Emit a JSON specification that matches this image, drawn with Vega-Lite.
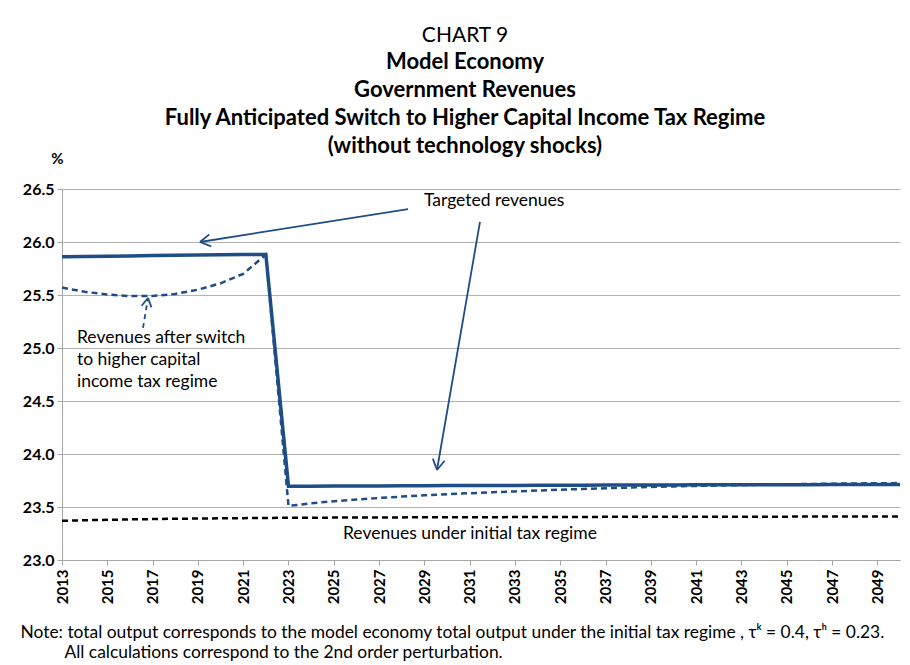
{
  "$schema": "https://vega.github.io/schema/vega-lite/v6.json",
  "width": 838,
  "height": 371,
  "autosize": {"type": "none"},
  "padding": {"left": 62, "top": 189, "right": 10, "bottom": 105},
  "background": "white",
  "config": {
    "font": "Lato",
    "view": {"stroke": null}
  },
  "title": {
    "text": "CHART 9",
    "subtitle": ["Model Economy", "Government Revenues", "Fully Anticipated Switch to Higher Capital Income Tax Regime", "(without technology shocks)"],
    "anchor": "middle",
    "frame": "group",
    "dx": -16,
    "dy": 42,
    "offset": 36,
    "font": "Lato",
    "fontSize": 21,
    "fontWeight": "normal",
    "color": "black",
    "subtitleFont": "Lato",
    "subtitleFontSize": 22,
    "subtitleFontWeight": "bold",
    "subtitleColor": "black",
    "subtitleLineHeight": 28,
    "subtitlePadding": 6
  },
  "datasets": {
    "lines": [
      {"series": "Targeted", "year": 2013, "value": 25.86},
      {"series": "Targeted", "year": 2014, "value": 25.863},
      {"series": "Targeted", "year": 2015, "value": 25.866},
      {"series": "Targeted", "year": 2016, "value": 25.869},
      {"series": "Targeted", "year": 2017, "value": 25.872},
      {"series": "Targeted", "year": 2018, "value": 25.875},
      {"series": "Targeted", "year": 2019, "value": 25.877},
      {"series": "Targeted", "year": 2020, "value": 25.879},
      {"series": "Targeted", "year": 2021, "value": 25.881},
      {"series": "Targeted", "year": 2022, "value": 25.883},
      {"series": "Targeted", "year": 2023, "value": 23.695},
      {"series": "Targeted", "year": 2024, "value": 23.696},
      {"series": "Targeted", "year": 2025, "value": 23.697},
      {"series": "Targeted", "year": 2026, "value": 23.698},
      {"series": "Targeted", "year": 2027, "value": 23.699},
      {"series": "Targeted", "year": 2028, "value": 23.7},
      {"series": "Targeted", "year": 2029, "value": 23.701},
      {"series": "Targeted", "year": 2030, "value": 23.702},
      {"series": "Targeted", "year": 2031, "value": 23.703},
      {"series": "Targeted", "year": 2032, "value": 23.703},
      {"series": "Targeted", "year": 2033, "value": 23.704},
      {"series": "Targeted", "year": 2034, "value": 23.705},
      {"series": "Targeted", "year": 2035, "value": 23.705},
      {"series": "Targeted", "year": 2036, "value": 23.706},
      {"series": "Targeted", "year": 2037, "value": 23.707},
      {"series": "Targeted", "year": 2038, "value": 23.707},
      {"series": "Targeted", "year": 2039, "value": 23.708},
      {"series": "Targeted", "year": 2040, "value": 23.708},
      {"series": "Targeted", "year": 2041, "value": 23.709},
      {"series": "Targeted", "year": 2042, "value": 23.709},
      {"series": "Targeted", "year": 2043, "value": 23.71},
      {"series": "Targeted", "year": 2044, "value": 23.71},
      {"series": "Targeted", "year": 2045, "value": 23.711},
      {"series": "Targeted", "year": 2046, "value": 23.711},
      {"series": "Targeted", "year": 2047, "value": 23.712},
      {"series": "Targeted", "year": 2048, "value": 23.712},
      {"series": "Targeted", "year": 2049, "value": 23.713},
      {"series": "Targeted", "year": 2050, "value": 23.713},
      {"series": "Switch", "year": 2013, "value": 25.57},
      {"series": "Switch", "year": 2014, "value": 25.53},
      {"series": "Switch", "year": 2015, "value": 25.505},
      {"series": "Switch", "year": 2016, "value": 25.49},
      {"series": "Switch", "year": 2017, "value": 25.49},
      {"series": "Switch", "year": 2018, "value": 25.51},
      {"series": "Switch", "year": 2019, "value": 25.55},
      {"series": "Switch", "year": 2020, "value": 25.61},
      {"series": "Switch", "year": 2021, "value": 25.7},
      {"series": "Switch", "year": 2022, "value": 25.88},
      {"series": "Switch", "year": 2023, "value": 23.51},
      {"series": "Switch", "year": 2024, "value": 23.535},
      {"series": "Switch", "year": 2025, "value": 23.555},
      {"series": "Switch", "year": 2026, "value": 23.57},
      {"series": "Switch", "year": 2027, "value": 23.585},
      {"series": "Switch", "year": 2028, "value": 23.598},
      {"series": "Switch", "year": 2029, "value": 23.61},
      {"series": "Switch", "year": 2030, "value": 23.62},
      {"series": "Switch", "year": 2031, "value": 23.63},
      {"series": "Switch", "year": 2032, "value": 23.639},
      {"series": "Switch", "year": 2033, "value": 23.647},
      {"series": "Switch", "year": 2034, "value": 23.655},
      {"series": "Switch", "year": 2035, "value": 23.663},
      {"series": "Switch", "year": 2036, "value": 23.67},
      {"series": "Switch", "year": 2037, "value": 23.677},
      {"series": "Switch", "year": 2038, "value": 23.683},
      {"series": "Switch", "year": 2039, "value": 23.689},
      {"series": "Switch", "year": 2040, "value": 23.694},
      {"series": "Switch", "year": 2041, "value": 23.699},
      {"series": "Switch", "year": 2042, "value": 23.703},
      {"series": "Switch", "year": 2043, "value": 23.707},
      {"series": "Switch", "year": 2044, "value": 23.711},
      {"series": "Switch", "year": 2045, "value": 23.714},
      {"series": "Switch", "year": 2046, "value": 23.717},
      {"series": "Switch", "year": 2047, "value": 23.72},
      {"series": "Switch", "year": 2048, "value": 23.722},
      {"series": "Switch", "year": 2049, "value": 23.724},
      {"series": "Switch", "year": 2050, "value": 23.726},
      {"series": "Initial", "year": 2013, "value": 23.37},
      {"series": "Initial", "year": 2014, "value": 23.375},
      {"series": "Initial", "year": 2015, "value": 23.379},
      {"series": "Initial", "year": 2016, "value": 23.383},
      {"series": "Initial", "year": 2017, "value": 23.386},
      {"series": "Initial", "year": 2018, "value": 23.389},
      {"series": "Initial", "year": 2019, "value": 23.391},
      {"series": "Initial", "year": 2020, "value": 23.393},
      {"series": "Initial", "year": 2021, "value": 23.395},
      {"series": "Initial", "year": 2022, "value": 23.397},
      {"series": "Initial", "year": 2023, "value": 23.398},
      {"series": "Initial", "year": 2024, "value": 23.399},
      {"series": "Initial", "year": 2025, "value": 23.4},
      {"series": "Initial", "year": 2026, "value": 23.401},
      {"series": "Initial", "year": 2027, "value": 23.402},
      {"series": "Initial", "year": 2028, "value": 23.402},
      {"series": "Initial", "year": 2029, "value": 23.403},
      {"series": "Initial", "year": 2030, "value": 23.403},
      {"series": "Initial", "year": 2031, "value": 23.404},
      {"series": "Initial", "year": 2032, "value": 23.404},
      {"series": "Initial", "year": 2033, "value": 23.405},
      {"series": "Initial", "year": 2034, "value": 23.405},
      {"series": "Initial", "year": 2035, "value": 23.406},
      {"series": "Initial", "year": 2036, "value": 23.406},
      {"series": "Initial", "year": 2037, "value": 23.407},
      {"series": "Initial", "year": 2038, "value": 23.407},
      {"series": "Initial", "year": 2039, "value": 23.407},
      {"series": "Initial", "year": 2040, "value": 23.408},
      {"series": "Initial", "year": 2041, "value": 23.408},
      {"series": "Initial", "year": 2042, "value": 23.408},
      {"series": "Initial", "year": 2043, "value": 23.409},
      {"series": "Initial", "year": 2044, "value": 23.409},
      {"series": "Initial", "year": 2045, "value": 23.409},
      {"series": "Initial", "year": 2046, "value": 23.41},
      {"series": "Initial", "year": 2047, "value": 23.41},
      {"series": "Initial", "year": 2048, "value": 23.41},
      {"series": "Initial", "year": 2049, "value": 23.41},
      {"series": "Initial", "year": 2050, "value": 23.41}
    ],
    "arrows": [
      {"kind": "solid", "x": 2028.28, "y": 26.311, "x2": 2019.093, "y2": 26.0},
      {"kind": "solid", "x": 2019.093, "y": 26.0, "x2": 2019.587, "y2": 25.959},
      {"kind": "solid", "x": 2019.093, "y": 26.0, "x2": 2019.503, "y2": 26.072},
      {"kind": "solid", "x": 2031.455, "y": 26.189, "x2": 2029.556, "y2": 23.849},
      {"kind": "solid", "x": 2029.556, "y": 23.849, "x2": 2029.896, "y2": 23.936},
      {"kind": "solid", "x": 2029.556, "y": 23.849, "x2": 2029.375, "y2": 23.956},
      {"kind": "dashed", "x": 2016.576, "y": 25.189, "x2": 2016.797, "y2": 25.472},
      {"kind": "solid", "x": 2016.797, "y": 25.472, "x2": 2016.514, "y2": 25.399},
      {"kind": "solid", "x": 2016.797, "y": 25.472, "x2": 2016.951, "y2": 25.383}
    ],
    "labels": [
      {"x": 2028.98, "y": 26.34, "align": "left", "text": ["Targeted revenues"]},
      {"x": 2013.66, "y": 25.047, "align": "left", "text": ["Revenues after switch", "to higher capital", "income tax regime"]},
      {"x": 2031.01, "y": 23.2, "align": "center", "text": ["Revenues under initial tax regime"]}
    ]
  },
  "encoding": {
    "x": {
      "field": "year",
      "type": "quantitative",
      "scale": {"domain": [2013, 2050], "nice": false, "zero": false},
      "axis": {
        "values": [2013, 2015, 2017, 2019, 2021, 2023, 2025, 2027, 2029, 2031, 2033, 2035, 2037, 2039, 2041, 2043, 2045, 2047, 2049],
        "format": "d",
        "grid": false,
        "labelAngle": -90,
        "labelAlign": "right",
        "labelBaseline": "middle",
        "labelFontSize": 15,
        "labelFontWeight": "bold",
        "labelColor": "black",
        "labelPadding": 4,
        "domainColor": "#a6a6a6",
        "tickColor": "#a6a6a6",
        "tickSize": 5,
        "title": ["Note: total output corresponds to the model economy total output under the initial tax regime , τᵏ = 0.4, τʰ = 0.23.", "\u200b\u00a0\u00a0\u00a0\u00a0\u00a0\u00a0\u00a0\u00a0\u00a0\u00a0All calculations correspond to the 2nd order perturbation."],
        "titleAnchor": "start",
        "titleAlign": "left",
        "titleBaseline": "alphabetic",
        "titleX": -42,
        "titleY": 77,
        "titleFontSize": 17.4,
        "titleFontWeight": "normal",
        "titleColor": "black",
        "titleLineHeight": 20
      }
    },
    "y": {
      "field": "value",
      "type": "quantitative",
      "scale": {"domain": [23, 26.5], "nice": false, "zero": false},
      "axis": {
        "values": [23, 23.5, 24, 24.5, 25, 25.5, 26, 26.5],
        "format": ".1f",
        "gridColor": "#b3b3b3",
        "gridWidth": 1,
        "labelFontSize": 16,
        "labelFontWeight": "bold",
        "labelColor": "black",
        "labelPadding": 3,
        "domainColor": "#a6a6a6",
        "tickColor": "#a6a6a6",
        "tickSize": 5,
        "title": "%",
        "titleAngle": 0,
        "titleAlign": "center",
        "titleBaseline": "alphabetic",
        "titleX": -5,
        "titleY": -26,
        "titleFontSize": 15,
        "titleFontWeight": "bold",
        "titleColor": "black"
      }
    }
  },
  "layer": [
    {
      "data": {"name": "lines"},
      "transform": [{"filter": "datum.series === 'Initial'"}],
      "mark": {"type": "line", "color": "black", "strokeWidth": 2.5, "strokeDash": [6, 4]}
    },
    {
      "data": {"name": "lines"},
      "transform": [{"filter": "datum.series === 'Targeted'"}],
      "mark": {"type": "line", "color": "#1f4e86", "strokeWidth": 3.5}
    },
    {
      "data": {"name": "lines"},
      "transform": [{"filter": "datum.series === 'Switch'"}],
      "mark": {"type": "line", "color": "#1f4e86", "strokeWidth": 2.5, "strokeDash": [6, 4]}
    },
    {
      "data": {"name": "arrows"},
      "transform": [{"filter": "datum.kind === 'solid'"}],
      "mark": {"type": "rule", "color": "#1f4e86", "strokeWidth": 1.8},
      "encoding": {
        "x": {"field": "x", "type": "quantitative"},
        "y": {"field": "y", "type": "quantitative"},
        "x2": {"field": "x2"},
        "y2": {"field": "y2"}
      }
    },
    {
      "data": {"name": "arrows"},
      "transform": [{"filter": "datum.kind === 'dashed'"}],
      "mark": {"type": "rule", "color": "#1f4e86", "strokeWidth": 1.8, "strokeDash": [5, 4]},
      "encoding": {
        "x": {"field": "x", "type": "quantitative"},
        "y": {"field": "y", "type": "quantitative"},
        "x2": {"field": "x2"},
        "y2": {"field": "y2"}
      }
    },
    {
      "data": {"name": "labels"},
      "transform": [{"filter": "datum.align === 'left'"}],
      "mark": {"type": "text", "font": "Lato", "fontSize": 17.5, "color": "black", "align": "left", "baseline": "alphabetic", "lineHeight": 22},
      "encoding": {
        "x": {"field": "x", "type": "quantitative"},
        "y": {"field": "y", "type": "quantitative"},
        "text": {"field": "text"}
      }
    },
    {
      "data": {"name": "labels"},
      "transform": [{"filter": "datum.align === 'center'"}],
      "mark": {"type": "text", "font": "Lato", "fontSize": 17.5, "color": "black", "align": "center", "baseline": "alphabetic", "lineHeight": 22},
      "encoding": {
        "x": {"field": "x", "type": "quantitative"},
        "y": {"field": "y", "type": "quantitative"},
        "text": {"field": "text"}
      }
    }
  ]
}
